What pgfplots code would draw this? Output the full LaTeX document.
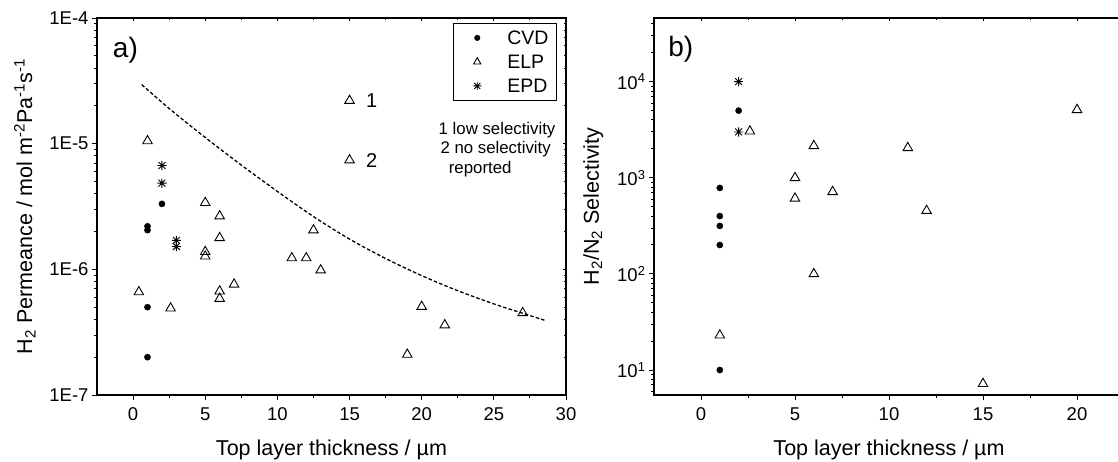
\documentclass[border=0pt]{standalone}
\usepackage{fontspec}
\setmainfont{Liberation Sans}
\usepackage{pgfplots}
\pgfplotsset{compat=1.18}

% eight-armed asterisk like the one in the original
\pgfdeclareplotmark{ast8}{%
  \pgfpathmoveto{\pgfqpoint{0pt}{\pgfplotmarksize}}\pgfpathlineto{\pgfqpoint{0pt}{-\pgfplotmarksize}}%
  \pgfpathmoveto{\pgfqpoint{\pgfplotmarksize}{0pt}}\pgfpathlineto{\pgfqpoint{-\pgfplotmarksize}{0pt}}%
  \pgfpathmoveto{\pgfqpoint{0.75\pgfplotmarksize}{0.75\pgfplotmarksize}}\pgfpathlineto{\pgfqpoint{-0.75\pgfplotmarksize}{-0.75\pgfplotmarksize}}%
  \pgfpathmoveto{\pgfqpoint{0.75\pgfplotmarksize}{-0.75\pgfplotmarksize}}\pgfpathlineto{\pgfqpoint{-0.75\pgfplotmarksize}{0.75\pgfplotmarksize}}%
  \pgfusepathqstroke}

\pgfplotsset{
  panelbase/.style={
    scale only axis, height=377pt, xmin=-2.5,
    axis line style={line width=1.4pt}, clip=false,
    every tick/.style={black, line width=1pt},
    /pgf/number format/assume math mode=true,
    tick label style={font=\fontsize{18.5}{21}\selectfont},
    label style={font=\fontsize{21.5}{24}\selectfont},
  },
  paneloutside/.style={panelbase, tick align=outside, xtick pos=left, ytick pos=left,
    major tick length=5pt, minor tick length=3pt,
    xticklabel shift=4pt, xlabel shift=12pt},
  panelmirror/.style={panelbase, tick align=inside, xtick pos=right, ytick pos=right,
    major tick length=3pt, minor tick length=2pt,
    xticklabels={}, yticklabels={}},
  minorA/.style={minor ytick={2e-7,3e-7,4e-7,5e-7,6e-7,7e-7,8e-7,9e-7,
    2e-6,3e-6,4e-6,5e-6,6e-6,7e-6,8e-6,9e-6,2e-5,3e-5,4e-5,5e-5,6e-5,7e-5,8e-5,9e-5}},
  minorB/.style={minor ytick={6,7,8,9,20,30,40,50,60,70,80,90,200,300,400,500,600,700,800,900,
    2000,3000,4000,5000,6000,7000,8000,9000,20000,30000,40000}},
  legimg/.style={legend image code/.code={%
    \path[draw=none, fill=none] (0pt,-5pt) rectangle (32.6pt,5pt);
    \draw[##1] plot coordinates {(16.3pt,0pt)};}},
}
\tikzset{
  cvdmark/.style={only marks, mark=*, mark size=3.1pt, black},
  elpmark/.style={only marks, mark=triangle, mark size=5.5pt, black,
    mark options={line width=0.9pt}},
  epdmark/.style={only marks, mark=ast8, mark size=4.6pt, black,
    mark options={line width=0.9pt}},
}

\begin{document}
\begin{tikzpicture}
% panel a
\begin{axis}[paneloutside, ymode=log, at={(97pt,67pt)}, anchor=south west, width=469pt,
  xmax=30, ymin=1e-7, ymax=1e-4,
  xtick={0,5,...,30}, minor x tick num=1,
  ytick={1e-7,1e-6,1e-5,1e-4}, yticklabels={1E-7,1E-6,1E-5,1E-4}, minorA,
  xlabel={Top layer thickness / \textmu m},
  ylabel={H\textsubscript{2} Permeance / mol m\textsuperscript{-2}Pa\textsuperscript{-1}s\textsuperscript{-1}},
  ylabel shift=7pt,
  legend style={at={(rel axis cs:0.980,0.987)}, anchor=north east,
    draw=black, line width=1pt,
    inner xsep=7.7pt, inner ysep=7.5pt, row sep=10pt,
    nodes={inner sep=0pt, text height=14pt, text depth=0pt,
      font=\fontsize{19.5}{22}\selectfont},
    /tikz/every odd column/.append style={column sep=13.7pt}},
  legend cell align=left,
]
\addplot[cvdmark, legimg, legend image post style={mark size=2.5pt}] coordinates {
  (1,2.2e-6) (1,2.05e-6) (2,3.32e-6) (1,5.0e-7) (1,2.0e-7)};
\addlegendentry{CVD}
\addplot[elpmark, legimg, legend image post style={mark size=4.2pt}] coordinates {
  (1,1.05e-5) (5,3.39e-6) (6,2.65e-6) (6,1.78e-6) (5,1.38e-6) (5,1.27e-6)
  (12.5,2.05e-6) (11,1.23e-6) (12,1.23e-6) (13,9.85e-7) (0.4,6.6e-7)
  (2.6,4.9e-7) (6,6.7e-7) (6,5.85e-7) (7,7.6e-7) (19,2.1e-7) (20,5.05e-7)
  (21.6,3.6e-7) (27,4.5e-7) (15,2.2e-5) (15,7.4e-6)};
\addlegendentry{ELP}
\addplot[epdmark, legimg, legend image post style={mark size=4pt}] coordinates {
  (2,6.7e-6) (2,4.85e-6) (3,1.7e-6) (3,1.52e-6)};
\addlegendentry{EPD}
\addplot[black, line width=1.3pt, dash pattern=on 3.5pt off 2.2pt, smooth, forget plot] coordinates {
  (0.6,2.95e-5) (2.5,1.905e-5) (5,1.12e-5) (7.5,6.76e-6) (10,4.17e-6)
  (12.5,2.63e-6) (15,1.74e-6) (17.5,1.22e-6) (20,8.91e-7) (22.5,6.76e-7)
  (25,5.31e-7) (27,4.47e-7) (28.5,3.94e-7)};
\node[font=\fontsize{28}{30}\selectfont] at (axis cs:-0.53,5.5e-5) {a)};
\node[anchor=west, font=\fontsize{20}{24}\selectfont] at (axis cs:15.9,2.2e-5) {1};
\node[anchor=west, font=\fontsize{20}{24}\selectfont] at (axis cs:15.9,7.4e-6) {2};
\node[font=\fontsize{16.8}{20}\selectfont] at (rel axis cs:0.853,0.703) {1 low selectivity};
\node[font=\fontsize{16.8}{20}\selectfont] at (rel axis cs:0.850,0.652) {2 no selectivity};
\node[font=\fontsize{16.8}{20}\selectfont] at (rel axis cs:0.817,0.600) {reported};
\end{axis}
\begin{axis}[panelmirror, ymode=log, at={(97pt,67pt)}, anchor=south west, width=469pt,
  xmax=30, ymin=1e-7, ymax=1e-4,
  xtick={0,5,...,30}, minor x tick num=1,
  ytick={1e-7,1e-6,1e-5,1e-4}, minorA]
\addplot[draw=none] coordinates {(0,1e-6)};
\end{axis}
% panel b
\begin{axis}[paneloutside, ymode=log, at={(654pt,67pt)}, anchor=south west, width=470pt,
  xmax=22.5, ymin=5.5, ymax=4.6e4,
  xtick={0,5,...,20}, minor x tick num=1,
  ytick={10,100,1000,10000},
  yticklabels={10\textsuperscript{1},10\textsuperscript{2},10\textsuperscript{3},10\textsuperscript{4}},
  minorB,
  xlabel={Top layer thickness / \textmu m},
  ylabel={H\textsubscript{2}/N\textsubscript{2} Selectivity},
  ylabel shift=7pt,
]
\addplot[cvdmark] coordinates {
  (2,5000) (1,785) (1,400) (1,316) (1,200) (1,10)};
\addplot[elpmark] coordinates {
  (2.6,3050) (6,2150) (11,2050) (20,5100) (5,1000) (5,610) (7,715)
  (12,455) (6,100) (1,23) (15,7.2)};
\addplot[epdmark] coordinates {
  (2,10000) (2,3000)};
\node[font=\fontsize{28}{30}\selectfont] at (axis cs:-1.08,2.16e4) {b)};
\end{axis}
\begin{axis}[panelmirror, ymode=log, at={(654pt,67pt)}, anchor=south west, width=470pt,
  xmax=22.5, ymin=5.5, ymax=4.6e4,
  xtick={0,5,...,20}, minor x tick num=1,
  ytick={10,100,1000,10000}, minorB]
\addplot[draw=none] coordinates {(0,100)};
\end{axis}
\pgfresetboundingbox
\path[use as bounding box] (0,0) rectangle (1118pt,462pt);
\end{tikzpicture}
\end{document}
